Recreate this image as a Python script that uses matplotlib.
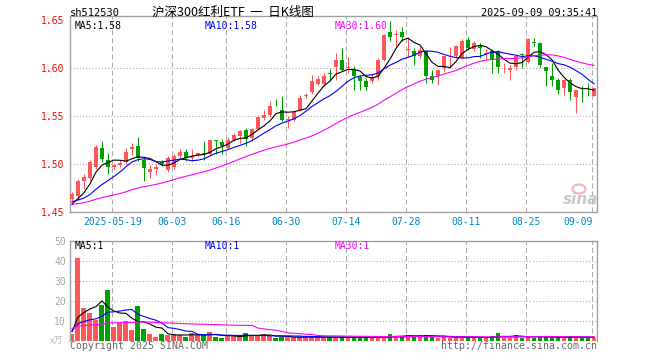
import numpy as np
import pandas as pd
import matplotlib
matplotlib.use('Agg')
import matplotlib.pyplot as plt
from matplotlib.patches import Ellipse

# daily candles, 2025-05-08 .. 2025-09-09
opens = [1.463, 1.466, 1.482, 1.4847, 1.4962, 1.5163, 1.5042, 1.4962, 1.4983, 1.502,
         1.5153, 1.5188, 1.504, 1.491, 1.4944, 1.5021, 1.4937, 1.497, 1.508, 1.5125,
         1.5056, 1.5094, 1.5115, 1.5104, 1.525, 1.5233, 1.5167, 1.5253, 1.5295, 1.5358,
         1.527, 1.5368, 1.548, 1.5514, 1.5649, 1.5566, 1.5462, 1.5455, 1.5566, 1.5705,
         1.5747, 1.5837, 1.5837, 1.5944, 1.6017, 1.6087, 1.600, 1.5983, 1.5906, 1.5861,
         1.5861, 1.5913, 1.6087, 1.6382, 1.6347, 1.6382, 1.6191, 1.6174, 1.6128, 1.6174,
         1.5913, 1.592, 1.600, 1.6122, 1.6122, 1.6104, 1.6295, 1.6198, 1.6243, 1.6153,
         1.6174, 1.6174, 1.5998, 1.5976, 1.6017, 1.6142, 1.6069, 1.6267, 1.626, 1.601,
         1.592, 1.5878, 1.5792, 1.5878, 1.5698, 1.577, 1.5772, 1.5712]
highs = [1.471, 1.484, 1.4895, 1.504, 1.5195, 1.5243, 1.511, 1.4997, 1.504, 1.517,
         1.5215, 1.5285, 1.506, 1.499, 1.500, 1.5035, 1.5077, 1.5105, 1.515, 1.5156,
         1.5156, 1.5118, 1.5236, 1.526, 1.5253, 1.526, 1.528, 1.5323, 1.5358, 1.5375,
         1.5375, 1.5497, 1.556, 1.5653, 1.5677, 1.5705, 1.5497, 1.555, 1.5722, 1.574,
         1.5931, 1.5913, 1.5948, 1.599, 1.6156, 1.6208, 1.612, 1.6027, 1.5931, 1.5896,
         1.594, 1.6104, 1.6358, 1.6497, 1.640, 1.6434, 1.633, 1.6208, 1.6226, 1.619,
         1.5976, 1.599, 1.6128, 1.6219, 1.6243, 1.6302, 1.6323, 1.6288, 1.6267, 1.6198,
         1.620, 1.6191, 1.605, 1.6035, 1.6139, 1.6156, 1.6313, 1.6313, 1.6278, 1.6017,
         1.6052, 1.5896, 1.5885, 1.5896, 1.5774, 1.5809, 1.5844, 1.5795]
lows = [1.461, 1.4625, 1.4735, 1.483, 1.495, 1.5024, 1.4896, 1.495, 1.497, 1.500,
        1.509, 1.503, 1.4826, 1.485, 1.4885, 1.498, 1.492, 1.495, 1.506, 1.5028,
        1.503, 1.508, 1.5045, 1.508, 1.510, 1.510, 1.515, 1.524, 1.522, 1.519,
        1.5236, 1.535, 1.546, 1.549, 1.560, 1.5444, 1.5375, 1.5444, 1.555, 1.5688,
        1.5733, 1.5826, 1.581, 1.5861, 1.5872, 1.5965, 1.595, 1.5767, 1.5767, 1.5767,
        1.5845, 1.5878, 1.607, 1.6288, 1.6225, 1.6288, 1.612, 1.6028, 1.6104, 1.5844,
        1.5844, 1.5826, 1.5955, 1.600, 1.6104, 1.6094, 1.6191, 1.6174, 1.6104, 1.6094,
        1.5948, 1.5948, 1.595, 1.5878, 1.5983, 1.600, 1.6052, 1.6233, 1.6017, 1.5809,
        1.5809, 1.5733, 1.5722, 1.567, 1.5531, 1.5642, 1.5705, 1.5705]
closes = [1.468, 1.482, 1.4865, 1.502, 1.518, 1.5049, 1.4962, 1.4983, 1.5014, 1.5128,
          1.518, 1.506, 1.496, 1.4948, 1.4962, 1.4997, 1.5059, 1.508, 1.5128, 1.5056,
          1.508, 1.5115, 1.5108, 1.5247, 1.524, 1.5184, 1.5253, 1.5306, 1.5347, 1.5264,
          1.5368, 1.549, 1.5514, 1.5608, 1.5642, 1.5462, 1.5472, 1.5538, 1.5688, 1.5722,
          1.5861, 1.5885, 1.592, 1.5937, 1.6087, 1.5983, 1.6007, 1.5913, 1.5861, 1.5799,
          1.5906, 1.6087, 1.6347, 1.633, 1.6358, 1.633, 1.620, 1.6128, 1.619, 1.5913,
          1.5878, 1.5983, 1.6122, 1.6132, 1.6233, 1.6288, 1.6208, 1.626, 1.6208, 1.6156,
          1.6087, 1.6017, 1.6002, 1.600, 1.6128, 1.6139, 1.6302, 1.626, 1.6035, 1.5965,
          1.5878, 1.5767, 1.5878, 1.5747, 1.5767, 1.5767, 1.5767, 1.5792]
# volume in 万手
volumes = [3.35, 41.3, 16.3, 13.8, 10.4, 17.8, 25.3, 6.85, 8.7, 9.85,
           5.35, 17.3, 5.85, 3.35, 1.85, 3.35, 2.85, 3.35, 2.85, 1.85,
           3.85, 2.85, 2.85, 4.35, 1.85, 1.35, 2.35, 2.35, 2.35, 3.85,
           2.35, 2.35, 3.35, 2.35, 1.35, 1.85, 1.85, 1.85, 1.85, 1.85,
           1.85, 1.85, 1.85, 1.85, 1.5, 1.85, 1.5, 1.85, 1.5, 1.5,
           1.5, 1.85, 1.85, 3.35, 2.35, 1.85, 2.85, 1.85, 2.85, 2.85,
           1.85, 1.5, 1.85, 1.5, 1.85, 1.85, 1.5, 1.5, 1.5, 1.5,
           2.35, 3.85, 1.5, 1.5, 2.85, 1.5, 2.35, 1.5, 1.85, 1.85,
           1.85, 1.85, 1.5, 1.85, 2.35, 1.5, 1.5, 1.2]

# sessions before the window (not drawn, they only feed the moving averages)
hist_close = [1.452, 1.455, 1.458, 1.456, 1.453, 1.455, 1.457, 1.459, 1.456, 1.454,
              1.452, 1.455, 1.458, 1.460, 1.457, 1.455, 1.453, 1.456, 1.458, 1.461,
              1.464, 1.466, 1.465, 1.463, 1.456, 1.454, 1.455, 1.456, 1.457]
hist_vol = [7.5, 6.8, 7.2, 6.5, 6.9, 7.4, 6.1, 6.6, 7.0, 6.3,
            6.8, 7.1, 6.4, 6.9, 6.2, 6.7, 7.3, 6.0, 6.5, 6.2,
            5.8, 5.5, 5.6, 5.3, 5.1, 4.9, 4.7, 5.0, 4.6]

holidays = ['2025-06-02']
tick_dates = ['2025-05-19', '2025-06-03', '2025-06-16', '2025-06-30', '2025-07-14',
              '2025-07-28', '2025-08-11', '2025-08-25', '2025-09-09']
tick_labels = ['2025-05-19', '06-03', '06-16', '06-30', '07-14',
               '07-28', '08-11', '08-25', '09-09']

dates = pd.bdate_range('2025-05-08', '2025-09-09')
dates = dates[~dates.isin(pd.to_datetime(holidays))]

o = np.array(opens)
h = np.array(highs)
l = np.array(lows)
c = np.array(closes)
v = np.array(volumes)
x = np.arange(len(c))

n0 = len(hist_close)
pc = pd.Series(hist_close + closes)
pv = pd.Series(hist_vol + volumes)
ma_p = {n: pc.rolling(n).mean().values[n0:] for n in (5, 10, 30)}
ma_v = {n: pv.rolling(n).mean().values[n0:] for n in (5, 10, 30)}

RED = '#FF5757'
GREEN = '#00A000'
GRID = '#AAAAAA'
BLUE_TXT = '#0088CC'
MA_COL = {5: 'black', 10: '#0000FF', 30: '#FF00FF'}
MONO = 'DejaVu Sans Mono'
CJK = ['Noto Sans CJK SC', 'DejaVu Sans']
plt.rcParams['lines.scale_dashes'] = False

cols = np.where(c >= o, RED, GREEN)
tick_pos = [dates.get_loc(pd.Timestamp(d)) - 0.28 for d in tick_dates]

W, H = 660, 360
fig = plt.figure(figsize=(6.6, 3.6), dpi=100)
ax = fig.add_axes([70 / W, 1 - 211.7 / H, 527.3 / W, 196 / H])
axv = fig.add_axes([70 / W, 1 - 340.7 / H, 527.3 / W, 100 / H])

for a in (ax, axv):
    a.set_xlim(-0.33, 87.55)
    for s in a.spines.values():
        s.set_color('#A0A0A0')
        s.set_linewidth(1.0)
    for p in tick_pos:
        a.axvline(p, color=GRID, lw=0.75, ls=(0, (3.6, 2.2)), zorder=0)
axv.spines['bottom'].set_visible(False)

# price panel
ax.set_ylim(1.45, 1.6548)
for lv in (1.50, 1.55, 1.60):
    ax.axhline(lv, color=GRID, lw=0.75, ls=(0, (0.75, 1.5)), zorder=0)
ax.vlines(x, l, h, colors=cols, lw=0.75, zorder=2)
ax.bar(x, np.maximum(np.abs(c - o), 0.0008), bottom=np.minimum(o, c), width=0.8,
       color=cols, lw=0, zorder=3)
for n in (5, 10, 30):
    ax.plot(x, ma_p[n], color=MA_COL[n], lw=0.8, zorder=4)

ax.set_yticks([1.45, 1.50, 1.55, 1.60, 1.65])
ax.set_yticklabels(['1.45', '1.50', '1.55', '1.60', '1.65'], family=MONO, fontsize=7)
ax.tick_params(axis='y', length=0, pad=4.3, colors='red')
ax.set_xticks(tick_pos)
ax.set_xticklabels(tick_labels, family=MONO, fontsize=7)
ax.tick_params(axis='x', length=0, pad=3.5, colors=BLUE_TXT)
ax.get_xticklabels()[-1].set_ha('right')

# volume panel
axv.set_ylim(0, 50)
for lv in (10, 20, 30, 40):
    axv.axhline(lv, color=GRID, lw=0.75, ls=(0, (0.75, 1.5)), zorder=0)
axv.bar(x, v, width=0.83, color=cols, lw=0, zorder=2)
for n in (5, 10, 30):
    axv.plot(x, ma_v[n], color=MA_COL[n], lw=0.8, zorder=4)
axv.set_yticks([10, 20, 30, 40, 50])
axv.set_yticklabels(['10', '20', '30', '40', '50'], family=MONO, fontsize=7)
axv.tick_params(axis='y', length=0, pad=3, colors='#A8A8A8')
axv.set_xticks([])


def ftext(px, py, s, **kw):
    fig.text(px / W, 1 - py / H, s, va='center', **kw)


ftext(70, 13, 'sh512530', family=MONO, fontsize=7.5, color='black')
ftext(233, 12.5, '沪深300红利ETF  一  日K线图', family=CJK, fontsize=9, color='black', ha='center')
ftext(597, 13, '2025-09-09 09:35:41', family=MONO, fontsize=7.3, color='black', ha='right')

ftext(75, 26, 'MA5:1.58', family=MONO, fontsize=7, color='black')
ftext(205, 26, 'MA10:1.58', family=MONO, fontsize=7, color=MA_COL[10])
ftext(334.5, 26, 'MA30:1.60', family=MONO, fontsize=7, color=MA_COL[30])

ftext(75, 246, 'MA5:1', family=MONO, fontsize=7, color='black')
ftext(205, 246, 'MA10:1', family=MONO, fontsize=7, color=MA_COL[10])
ftext(334.5, 246, 'MA30:1', family=MONO, fontsize=7, color=MA_COL[30])

ftext(63, 341, 'x万', family=CJK, fontsize=6.5, color='#BBBBBB', ha='right')
ftext(70, 346, 'Copyright 2025 SINA.COM', family=MONO, fontsize=7.1, color='#666666')
ftext(597, 346, 'http://finance.sina.com.cn', family=MONO, fontsize=7.1, color='#666666', ha='right')

# faint logo in the corner of the price panel
fig.add_artist(Ellipse((579 / W, 1 - 189 / H), 13 / W, 9 / H, transform=fig.transFigure,
                       facecolor='none', edgecolor='#F2B8B8', lw=1.6))
ftext(581, 199, 'sina', family='DejaVu Sans', fontsize=11, color='#C8C8C8',
      style='italic', weight='bold', ha='center')

fig.savefig('out.png', dpi=100)
